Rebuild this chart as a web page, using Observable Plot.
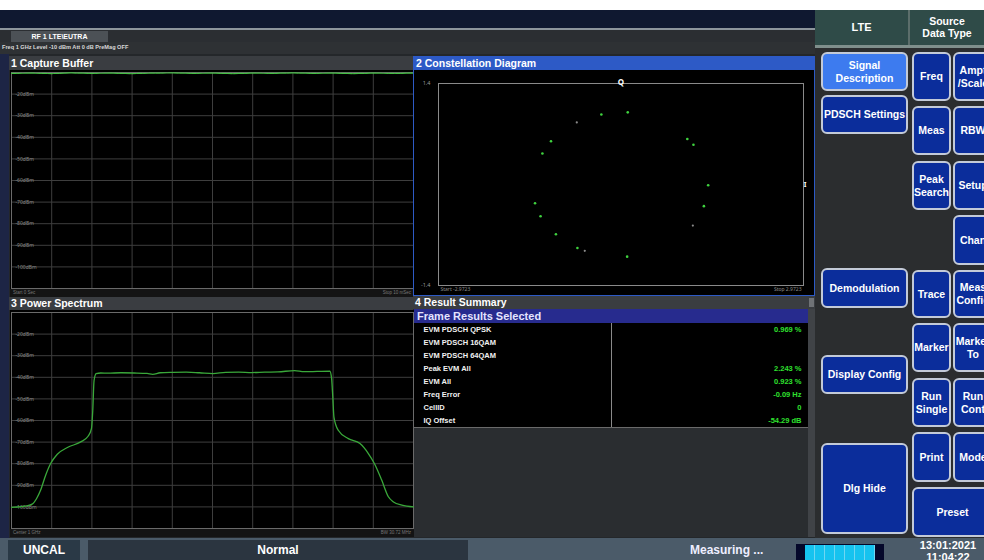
<!DOCTYPE html>
<html><head><meta charset="utf-8">
<script src="https://cdn.jsdelivr.net/npm/d3@7"></script>
<script src="https://cdn.jsdelivr.net/npm/@observablehq/plot@0.6"></script>
<style>
body{margin:0;background:#fff;font-family:"Liberation Sans",Arial,sans-serif;}
#app{position:relative;width:984px;height:560px;overflow:hidden;background:#fff;}
.a{position:absolute;box-sizing:border-box;}
.t{color:#fff;font-weight:bold;white-space:nowrap;}
.btn{position:absolute;box-sizing:border-box;border:2px solid #c3cad8;border-radius:6px;background:#0b2d9b;color:#fff;font-weight:bold;font-size:10.5px;display:flex;align-items:center;justify-content:center;text-align:center;line-height:1.2;white-space:nowrap;}
.sb{font-family:"Liberation Sans Narrow","Liberation Sans",Arial,sans-serif;}
svg{display:block;}
</style></head><body><div id="app"></div>
<script>
// ---------------- DATA ----------------
const levelTicks = [-20, -30, -40, -50, -60, -70, -80, -90, -100];
const levelDomain = [-110, -10];
const captureTimeTicks = [1, 2, 3, 4, 5, 6, 7, 8, 9];
const captureTime  = [0, 0.5, 1, 1.5, 2, 2.5, 3, 3.5, 4, 4.5, 5, 5.5, 6, 6.5, 7, 7.5, 8, 8.5, 9, 9.5, 10];
const captureLevel = [-10.4, -10.3, -10.5, -10.2, -10.4, -10.3, -10.5, -10.3, -10.2, -10.4, -10.3, -10.5, -10.3, -10.4, -10.2, -10.4, -10.3, -10.5, -10.3, -10.4, -10.3];

const spanMHz = 15.36;
const spectrumFreqTicks = [-12.288, -9.216, -6.144, -3.072, 0, 3.072, 6.144, 9.216, 12.288];
const spectrumFreq = [-15.36, -14.6, -13.78, -13.44, -13.14, -12.75, -12.37, -11.86, -11.09, -10.07, -9.51, -9.25, -9.15, -9.05, -8.89, -8.54,
  -8.0, -7.0, -6.0, -5.0, -4.57, -4.0, -3.0, -2.0, -1.0, 0.03, 1.0, 2.0, 3.0, 4.0, 5.0, 6.28, 7.0, 8.0, 8.97,
  9.1, 9.2, 9.28, 9.61, 10.38, 11.27, 11.91, 12.37, 12.93, 13.44, 13.83, 14.47, 15.36];
const spectrumLevel = [-100.2, -99.9, -98.7, -96.1, -92.3, -85.3, -79.9, -75.6, -72.5, -69.9, -67.3, -63.8, -55.3, -41.4, -38.3, -38.0,
  -38.1, -37.9, -38.0, -38.2, -38.6, -37.9, -37.7, -37.6, -37.9, -38.3, -37.7, -37.6, -37.8, -37.6, -37.5, -36.9, -37.4, -37.3, -37.2,
  -40.5, -50.0, -58.4, -64.5, -68.4, -70.7, -75.3, -79.9, -87.6, -95.3, -97.7, -99.2, -100.0];

const constStop = 2.9723;
const constQmax = 1.4;
const symbolI  = [-0.32, 0.11, -1.14, -1.28, 1.08, 1.18, 1.42, 1.35, -1.40, -1.31, -1.06, -0.71, 0.10];
const symbolQ  = [0.97, 1.00, 0.60, 0.43, 0.63, 0.55, -0.01, -0.30, -0.26, -0.44, -0.69, -0.88, -1.00];
const dimI = [-0.72, 1.17, -0.59];
const dimQ = [0.86, -0.57, -0.92];

const resultLabels = ["EVM PDSCH QPSK", "EVM PDSCH 16QAM", "EVM PDSCH 64QAM", "Peak EVM All", "EVM All", "Freq Error", "CellID", "IQ Offset"];
const resultValues = ["0.969 %", "", "", "2.243 %", "0.923 %", "-0.09 Hz", "0", "-54.29 dB"];

// ---------------- LAYOUT HELPERS ----------------
const app = document.getElementById("app");
function box(x, y, w, h, bg, html = "", css = "") {
  const d = document.createElement("div");
  d.className = "a";
  d.style.cssText = `left:${x}px;top:${y}px;width:${w}px;height:${h}px;background:${bg};${css}`;
  d.innerHTML = html;
  app.appendChild(d);
  return d;
}
function btn(x, y, w, h, html, bg) {
  const d = document.createElement("div");
  d.className = "btn";
  d.style.cssText = `left:${x}px;top:${y}px;width:${w}px;height:${h}px;` + (bg ? `background:${bg};` : "");
  d.innerHTML = html;
  app.appendChild(d);
}
function title(x, y, w, h, bg, text) {
  box(x, y, w, h, bg, `<div class="t" style="font-size:10.5px;line-height:${h}px;padding-left:2px;">${text}</div>`);
}

// ---------------- CHROME ----------------
box(0, 10, 815, 18, "#0f1830");
box(0, 28, 815, 2, "#8d959c");
box(0, 30, 815, 12, "#2b2e32");
box(11, 31, 97, 11, "#4c5156", `<div class="t" style="font-size:7px;line-height:11px;text-align:center;">RF 1 LTE\\EUTRA</div>`);
box(0, 42, 815, 12, "#2e3134", `<div class="t" style="font-size:5.6px;line-height:10px;padding-left:2px;color:#d8d8d8;">Freq 1 GHz Level -10 dBm Att 0 dB PreMag OFF</div>`);
box(0, 54, 815, 484, "#24272a");
box(0, 54, 9, 484, "#1d2545");

// panel 1
title(9, 56, 404, 14, "#3a3d41", "1 Capture Buffer");
box(10, 70, 404, 227, "#000");
const capDiv = box(10, 71, 404, 218, "transparent");
box(10, 289, 404, 8, "#141414",
  `<div style="position:absolute;left:3px;top:0;font-size:4.5px;color:#777;line-height:8px;">Start 0 Sec</div><div style="position:absolute;right:3px;top:0;font-size:4.5px;color:#777;line-height:8px;">Stop 10 mSec</div>`);

// panel 3
title(9, 297, 404, 13, "#3a3d41", "3 Power Spectrum");
box(10, 310, 404, 227, "#000");
const psDiv = box(10, 311, 404, 218, "transparent");
box(10, 529, 404, 8, "#141414",
  `<div style="position:absolute;left:3px;top:0;font-size:4.5px;color:#777;line-height:8px;">Center 1 GHz</div><div style="position:absolute;right:3px;top:0;font-size:4.5px;color:#777;line-height:8px;">BW 30.72 MHz</div>`);

// panel 2
box(413, 56, 402, 240, "#000", "", "border:1px solid #2d5ac6;");
title(414, 56, 400, 14, "#2d5ac6", "2 Constellation Diagram");
const conDiv = box(414, 70, 399, 225, "transparent");

// panel 4
title(413, 296, 402, 13, "#3a3d41", "4 Result Summary");
box(414, 309, 394, 14, "#272b8e", `<div class="t" style="font-size:11px;line-height:14px;padding-left:3px;color:#e4e4ff;">Frame Results Selected</div>`);
const tabDiv = box(414, 323, 394, 104, "#000");
box(611, 323, 1, 104, "#8a8a8a");
box(414, 427, 394, 1, "#6a6a6a");
box(414, 428, 394, 109, "#2a2d30");
box(808, 309, 7, 228, "#404347");
box(809, 298, 5, 9, "#6f7276");

// right panel
box(815, 10, 169, 528, "#2b2d2f");
box(815, 10, 169, 35, "#2f4b48");
box(908, 10, 2, 35, "#5c6e6b");
box(815, 45, 169, 3, "#7f8f8c");
box(815, 10, 93, 35, "transparent", `<div class="t" style="font-size:11px;line-height:35px;text-align:center;">LTE</div>`);
box(910, 10, 74, 35, "transparent", `<div class="t" style="font-size:10.5px;line-height:12px;text-align:center;padding-top:5px;">Source<br>Data Type</div>`);

btn(821, 52, 87, 39, "Signal<br>Description", "#3d7bef");
btn(821, 95, 87, 39, "PDSCH Settings");
btn(821, 268, 87, 40, "Demodulation");
btn(821, 355, 87, 39, "Display Config");
btn(821, 443, 87, 91, "Dlg Hide");
btn(912, 52, 39, 49, "Freq");
btn(953, 52, 40, 49, "Ampt<br>/Scale");
btn(912, 106, 39, 49, "Meas");
btn(953, 106, 40, 49, "RBW");
btn(912, 161, 39, 49, "Peak<br>Search");
btn(953, 161, 40, 49, "Setup");
btn(953, 215, 40, 50, "Chan");
btn(912, 270, 39, 48, "Trace");
btn(953, 270, 40, 48, "Meas<br>Config");
btn(912, 323, 39, 49, "Marker");
btn(953, 323, 40, 49, "Marker<br>To");
btn(912, 378, 39, 49, "Run<br>Single");
btn(953, 378, 40, 49, "Run<br>Cont");
btn(912, 432, 39, 50, "Print");
btn(953, 432, 40, 50, "Mode");
btn(912, 487, 81, 50, "Preset");

// status bar
box(0, 538, 984, 22, "#4b5b69");
box(8, 540, 72, 20, "#2a3946", `<div class="t sb" style="font-size:12px;line-height:20px;text-align:center;">UNCAL</div>`);
box(88, 540, 380, 20, "#2b3540", `<div class="t sb" style="font-size:12px;line-height:20px;text-align:center;">Normal</div>`);
box(690, 540, 90, 20, "transparent", `<div class="t sb" style="font-size:12px;line-height:20px;color:#eef;">Measuring ...</div>`);
box(796, 544, 88, 16, "#05082a");
box(805, 545, 70, 15, "#16c3ef", "", "background-image:repeating-linear-gradient(90deg,#16c3ef 0 9px,#6fd6f2 9px 10px);");
box(912, 538, 72, 22, "transparent", `<div class="t sb" style="font-size:11px;line-height:12px;text-align:center;padding-top:1px;">13:01:2021<br>11:04:22</div>`);

// ---------------- PLOTS ----------------
const gridStroke = "#3e3e3e";
const capData = captureTime.map((t, i) => ({t, v: captureLevel[i]}));
capDiv.appendChild(Plot.plot({
  width: 404, height: 218, marginTop: 1, marginBottom: 1, marginLeft: 1, marginRight: 1,
  x: {domain: [0, 10], axis: null},
  y: {domain: levelDomain, axis: null},
  style: {background: "transparent", overflow: "visible"},
  marks: [
    Plot.gridX({ticks: captureTimeTicks, stroke: gridStroke, strokeOpacity: 1}),
    Plot.gridY({ticks: levelTicks, stroke: gridStroke, strokeOpacity: 1}),
    Plot.axisY({ticks: levelTicks, label: null, tickSize: 0, tickPadding: 0, textAnchor: "start", dx: 4, tickFormat: d => d + "dBm", fill: "#8a8a8a", fontSize: 5}),
    Plot.frame({stroke: "#6a6a6a"}),
    Plot.line(capData, {x: "t", y: "v", stroke: "#45c045", strokeWidth: 1.2, strokeDasharray: "5,1"})
  ]
}));

const psData = spectrumFreq.map((f, i) => ({f, v: spectrumLevel[i]}));
psDiv.appendChild(Plot.plot({
  width: 404, height: 218, marginTop: 1, marginBottom: 1, marginLeft: 1, marginRight: 1,
  x: {domain: [-spanMHz, spanMHz], axis: null},
  y: {domain: levelDomain, axis: null},
  style: {background: "transparent", overflow: "visible"},
  marks: [
    Plot.gridX({ticks: spectrumFreqTicks, stroke: gridStroke, strokeOpacity: 1}),
    Plot.gridY({ticks: levelTicks, stroke: gridStroke, strokeOpacity: 1}),
    Plot.axisY({ticks: levelTicks, label: null, tickSize: 0, tickPadding: 0, textAnchor: "start", dx: 4, tickFormat: d => d + "dBm", fill: "#8a8a8a", fontSize: 5}),
    Plot.frame({stroke: "#6a6a6a"}),
    Plot.line(psData, {x: "f", y: "v", stroke: "#3aa83a", strokeWidth: 1.3, curve: "monotone-x"})
  ]
}));

const conGreen = symbolI.map((x, i) => ({x, y: symbolQ[i]}));
const conDim = dimI.map((x, i) => ({x, y: dimQ[i]}));
conDiv.appendChild(Plot.plot({
  width: 399, height: 225, marginLeft: 24, marginRight: 10, marginTop: 13, marginBottom: 10,
  x: {domain: [-constStop, constStop], axis: null},
  y: {domain: [-constQmax, constQmax], axis: null},
  style: {background: "transparent", overflow: "visible"},
  marks: [
    Plot.frame({stroke: "#8a8a8a"}),
    Plot.axisY({ticks: [-constQmax, constQmax], label: null, tickSize: 0, tickPadding: 8, tickFormat: d => String(d), fill: "#9a9a9a", fontSize: 5.5}),
    Plot.text([`Start -${constStop}`], {frameAnchor: "bottom-left", dy: 5, dx: 2, textAnchor: "start", fill: "#8a8a8a", fontSize: 5}),
    Plot.text([`Stop ${constStop}`], {frameAnchor: "bottom-right", dy: 5, dx: -2, textAnchor: "end", fill: "#8a8a8a", fontSize: 5}),
    Plot.dot(conDim, {x: "x", y: "y", r: 1.1, fill: "#8a8a8a", stroke: "none"}),
    Plot.dot(conGreen, {x: "x", y: "y", r: 1.3, fill: "#3fd23f", stroke: "none"}),
    Plot.text(["Q"], {frameAnchor: "top", dy: -4, fill: "#fff", fontWeight: "bold", fontSize: 8}),
    Plot.text(["I"], {frameAnchor: "right", dx: 3, fill: "#fff", fontWeight: "bold", fontSize: 7})
  ]
}));

const rows = resultLabels.map((label, i) => ({label, value: resultValues[i]}));
tabDiv.appendChild(Plot.plot({
  width: 394, height: 104, margin: 0,
  x: {domain: [0, 1], axis: null},
  y: {type: "band", domain: resultLabels, padding: 0, axis: null},
  style: {background: "transparent", overflow: "visible", fontFamily: "Liberation Sans, Arial, sans-serif"},
  marks: [
    Plot.text(rows, {y: "label", text: "label", frameAnchor: "left", dx: 9, textAnchor: "start", fill: "#f2f2f2", fontWeight: "bold", fontSize: 7.5}),
    Plot.text(rows, {y: "label", text: "value", frameAnchor: "right", dx: -7, textAnchor: "end", fill: "#2fe02f", fontWeight: "bold", fontSize: 7.5})
  ]
}));
</script></body></html>
